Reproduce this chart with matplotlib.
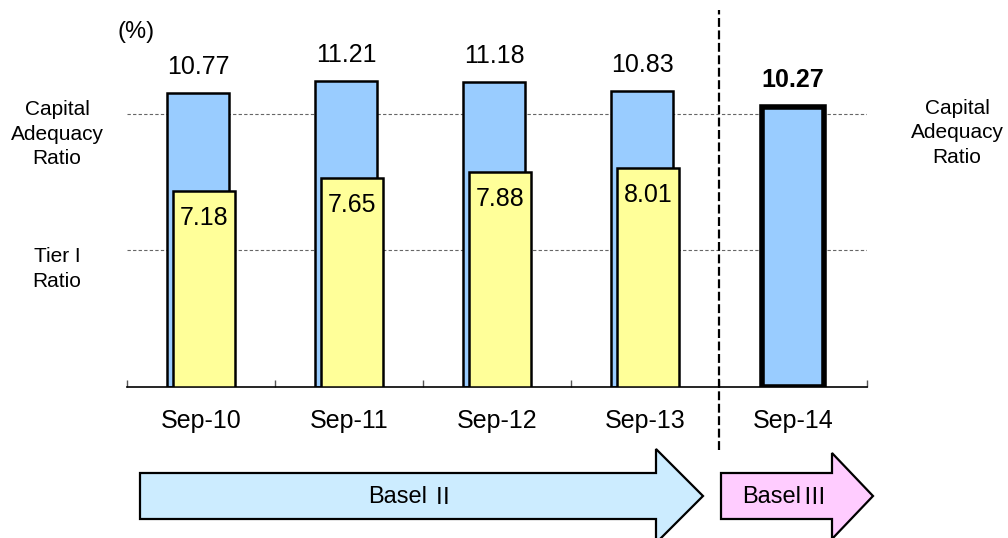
import numpy as np
import matplotlib.pyplot as plt
from matplotlib.patches import Polygon

# --- data ---
periods = ["Sep-10", "Sep-11", "Sep-12", "Sep-13", "Sep-14"]
capital_ratio = [10.77, 11.21, 11.18, 10.83, 10.27]
tier1_ratio = [7.18, 7.65, 7.88, 8.01]

FONT = ["Liberation Sans", "Noto Sans CJK JP", "DejaVu Sans"]
plt.rcParams["font.family"] = FONT

W, H = 1008, 538
fig = plt.figure(figsize=(W / 100, H / 100), dpi=100)

# main axes (pixel placement)
ax_l, ax_r, ax_b, ax_t = 127, 867, 387, 32
ax = fig.add_axes([ax_l / W, 1 - ax_b / H, (ax_r - ax_l) / W, (ax_b - ax_t) / H])
ax.set_xlim(-0.5, 4.5)
ax.set_ylim(0, 13)

x = np.arange(len(periods))
bw = 0.42
off = 0.02

# capital adequacy bars
ax.bar(x[:4] - off, capital_ratio[:4], width=bw, color="#99CCFF",
       edgecolor="black", linewidth=1.8, zorder=2)
ax.bar(x[4], capital_ratio[4], width=bw, color="#99CCFF",
       edgecolor="black", linewidth=4, zorder=2)
# tier I bars
ax.bar(x[:4] + off, tier1_ratio, width=bw, color="#FFFF99",
       edgecolor="black", linewidth=1.8, zorder=3)

# gridlines
for g in [5, 10]:
    ax.axhline(g, color="#666666", linestyle=(0, (3, 2)), linewidth=0.8, zorder=1)

# value labels
for i, v in enumerate(capital_ratio):
    if i < 4:
        ax.text(x[i] - off, v + 0.95, f"{v:.2f}", ha="center", va="center", fontsize=18)
    else:
        ax.text(x[i], v + 0.98, f"{v:.2f}", ha="center", va="center", fontsize=18,
                fontweight="bold")
for i, v in enumerate(tier1_ratio):
    ax.text(x[i] + off, v - 0.98, f"{v:.2f}", ha="center", va="center", fontsize=18)

# axes styling
for s in ["top", "left", "right"]:
    ax.spines[s].set_visible(False)
ax.spines["bottom"].set_linewidth(1.2)
ax.set_yticks([])
ax.set_xticks(np.arange(-0.5, 5, 1.0))
ax.set_xticklabels([])
ax.tick_params(axis="x", direction="in", length=5, color="#555555", width=1)
ax.set_xticks(x, minor=True)
ax.set_xticklabels(periods, minor=True, fontsize=18)
ax.tick_params(axis="x", which="minor", length=0, pad=16)

# dashed separator between Basel II and Basel III
ax.plot([3.5, 3.5], [-2.3, 13.8], color="black", linestyle=(0, (4, 1.6)),
        linewidth=1.6, clip_on=False, zorder=4)

# side labels
side_kw = dict(ha="center", va="center", fontsize=15, linespacing=1.35)
fig.text(57 / W, 1 - 134 / H, "Capital\nAdequacy\nRatio", **side_kw)
fig.text(57 / W, 1 - 269 / H, "Tier I\nRatio", **side_kw)
fig.text(957 / W, 1 - 133 / H, "Capital\nAdequacy\nRatio", **side_kw)
fig.text(136 / W, 1 - 32 / H, "(%)", ha="center", va="center", fontsize=17)

# Basel arrows in an overlay axes with pixel coordinates
ov = fig.add_axes([0, 0, 1, 1], zorder=-1)
ov.set_xlim(0, W)
ov.set_ylim(H, 0)
ov.axis("off")


def arrow(x0, x1, xt, yc, body_h, head_h, color):
    pts = [(x0, yc - body_h / 2), (x1, yc - body_h / 2), (x1, yc - head_h / 2),
           (xt, yc), (x1, yc + head_h / 2), (x1, yc + body_h / 2), (x0, yc + body_h / 2)]
    ov.add_patch(Polygon(pts, closed=True, facecolor=color, edgecolor="black",
                         linewidth=1.6, clip_on=False))


arrow(140, 656, 703, 496, 46, 94, "#CCECFF")
arrow(721, 832, 873, 496, 46, 86, "#FFCCFF")
ov.text(427, 497, "Basel", ha="right", va="center", fontsize=17)
ov.text(431, 497, "Ⅱ", ha="left", va="center", fontsize=17, family="Noto Sans CJK JP")
ov.text(801, 497, "Basel", ha="right", va="center", fontsize=17)
ov.text(802, 497, "Ⅲ", ha="left", va="center", fontsize=17, family="Noto Sans CJK JP")

fig.savefig("out.png", dpi=100)
